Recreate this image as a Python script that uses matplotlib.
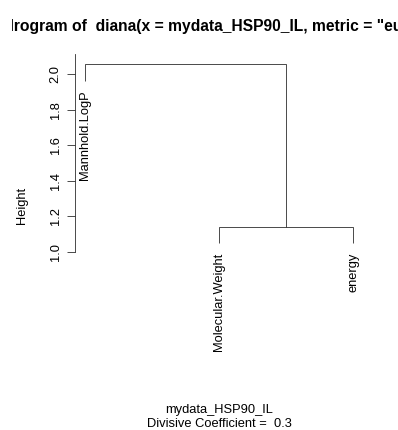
import matplotlib
matplotlib.use("Agg")
import matplotlib.pyplot as plt
import matplotlib.transforms as mtransforms

plt.rcParams['font.family'] = ['Liberation Sans', 'DejaVu Sans']

# Divisive clustering result (R-style merge matrix: negative = leaf, positive = earlier merge)
labels = ["Mannhold.LogP", "Molecular.Weight", "energy"]
merge = [[-2, -3], [-1, 1]]
heights = [1.141, 2.056]
order = [1, 2, 3]
hang = 0.1
yticks = [1.0, 1.2, 1.4, 1.6, 1.8, 2.0]
title = 'Dendrogram of  diana(x = mydata_HSP90_IL, metric = "euclidean")'
sub_lines = ["mydata_HSP90_IL", "Divisive Coefficient =  0.3"]

W, H = 398, 430
DPI = 72
FS = 12.9
fig = plt.figure(figsize=(W / DPI, H / DPI), dpi=DPI)

left, right, top, bottom = 74.5, 364, 54, 355
ax = fig.add_axes([left / W, 1 - bottom / H, (right - left) / W, (bottom - top) / H])
ax.set_xlim(0.92, 3.08)
ax.set_ylim(0.418, 2.115)

lw = 0.8
col = "#222222"
hang_len = hang * (max(heights) - min(heights))

# x position of each leaf
leaf_x = {leaf: i + 1 for i, leaf in enumerate(order)}
node_x = {}


def pos(ref):
    if ref < 0:
        return leaf_x[-ref]
    return node_x[ref]


for i, (a, b) in enumerate(merge, start=1):
    h = heights[i - 1]
    xa, xb = pos(a), pos(b)
    ya = h - hang_len if a < 0 else heights[a - 1]
    yb = h - hang_len if b < 0 else heights[b - 1]
    ax.plot([xa, xa, xb, xb], [ya, h, h, yb], color=col, lw=lw,
            solid_joinstyle="miter", solid_capstyle="butt")
    node_x[i] = (xa + xb) / 2
    for ref, y in ((a, ya), (b, yb)):
        if ref < 0:
            off = mtransforms.offset_copy(ax.transData, fig=fig, x=0, y=-10, units="dots")
            ax.text(leaf_x[-ref], y, labels[-ref - 1], rotation=90, ha="center", va="top",
                    fontsize=FS, transform=off, color="black")

for s in ("top", "right", "bottom"):
    ax.spines[s].set_visible(False)
ax.spines["left"].set_bounds(1.0, 2.115)
ax.spines["left"].set_linewidth(lw)
ax.spines["left"].set_color(col)
ax.set_xticks([])
ax.set_yticks(yticks)
ax.set_yticklabels([f"{t:.1f}" for t in yticks], rotation=90, va="center", fontsize=FS)
ax.tick_params(axis="y", length=8, width=lw, color=col, pad=5)

fig.text(22 / W, 1 - 205 / H, "Height", rotation=90, ha="center", va="center", fontsize=FS)

# Main title: sized so the visible stretch is ~187 px, left part hidden by a clip box
renderer = fig.canvas.get_renderer()
probe = fig.text(0, 0, "rogram of  diana(x = myd", fontsize=14.4, fontweight="bold")
span = probe.get_window_extent(renderer).width
tsize = 14.4 * 187.0 / span
probe.set_fontsize(tsize)
probe.set_text("Dend")
prefix_w = probe.get_window_extent(renderer).width
probe.remove()
ttl = fig.text((13.5 - prefix_w) / W, 1 - 31 / H, title, ha="left", va="baseline",
               fontsize=tsize, fontweight="bold")
ttl.set_clip_box(mtransforms.Bbox.from_extents(11.8, 0, W, H))
ttl.set_clip_on(True)

cx = (left + right) / 2
fig.text(cx / W, 1 - 413 / H, sub_lines[0], ha="center", va="baseline", fontsize=FS)
fig.text(cx / W, 1 - 427 / H, sub_lines[1], ha="center", va="baseline", fontsize=FS)

fig.savefig("out.png", dpi=DPI, facecolor="white")
